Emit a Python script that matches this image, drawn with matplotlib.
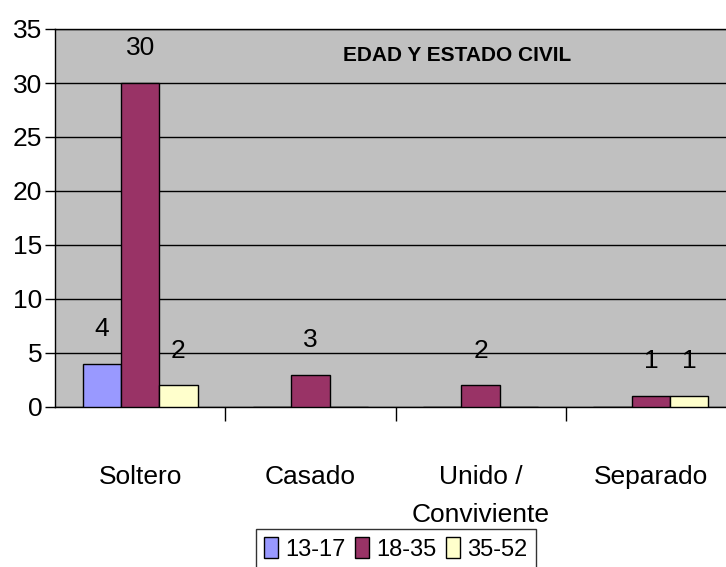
import numpy as np
import matplotlib.pyplot as plt

plt.rcParams['font.family'] = ['Liberation Sans', 'DejaVu Sans']

# data
categories = ['Soltero', 'Casado', 'Unido /\nConviviente', 'Separado']
series_names = ['13-17', '18-35', '35-52']
age_13_17 = [4, 0, 0, 0]
age_18_35 = [30, 3, 2, 1]
age_35_52 = [2, 0, 0, 1]
colors = ['#9999FF', '#993366', '#FFFFCC']

fig = plt.figure(figsize=(7.26, 5.67), dpi=100)
# plot area runs past the right edge like the original screenshot
ax = fig.add_axes([55 / 726, 1 - 407 / 567, 681 / 726, 378 / 567])
ax.set_facecolor('#C0C0C0')

x = np.arange(len(categories))
w = 0.225
all_series = [age_13_17, age_18_35, age_35_52]
for i, (vals, name, col) in enumerate(zip(all_series, series_names, colors)):
    pos = x + (i - 1) * w
    ax.bar(pos, vals, w, color=col, edgecolor='black', linewidth=1,
           label=name, zorder=3)
    for p, v in zip(pos, vals):
        if v > 0:
            ax.annotate(str(v), (p, v), xytext=(0, 25), textcoords='offset points',
                        ha='center', va='center', fontsize=19, zorder=4)

ax.set_xlim(-0.5, 3.5)
ax.set_ylim(0, 35)
ax.set_yticks(range(0, 36, 5))
ax.grid(axis='y', color='black', linewidth=1, zorder=0)
ax.tick_params(axis='y', labelsize=19, length=7, width=1, direction='out', pad=2)

# ticks between categories, labels at the centres
ax.set_xticks([0.5, 1.5, 2.5])
ax.set_xticklabels([])
ax.tick_params(axis='x', which='major', length=10, width=1, direction='out')
ax.set_xticks(x, minor=True)
ax.set_xticklabels(categories, minor=True, fontsize=19)
ax.tick_params(axis='x', which='minor', length=0, pad=42)
for lab in ax.get_xticklabels(minor=True):
    lab.set_linespacing(1.7)
    lab.set_va('top')

for side in ['left', 'bottom', 'top']:
    ax.spines[side].set_color('black')
    ax.spines[side].set_linewidth(1)
ax.spines['right'].set_visible(False)

ax.text(0.59, 0.93, 'EDAD Y ESTADO CIVIL', transform=ax.transAxes,
        ha='center', va='center', fontsize=15, fontweight='bold', zorder=5)

leg = fig.legend(loc='center', bbox_to_anchor=(396 / 726, 1 - 549 / 567), ncol=3,
                 fontsize=17, frameon=True, fancybox=False, edgecolor='black',
                 handlelength=0.6, handleheight=1.0, handletextpad=0.3,
                 columnspacing=0.4, borderpad=0.35, borderaxespad=0)
leg.get_frame().set_linewidth(1)

fig.savefig('out.png', dpi=100)
